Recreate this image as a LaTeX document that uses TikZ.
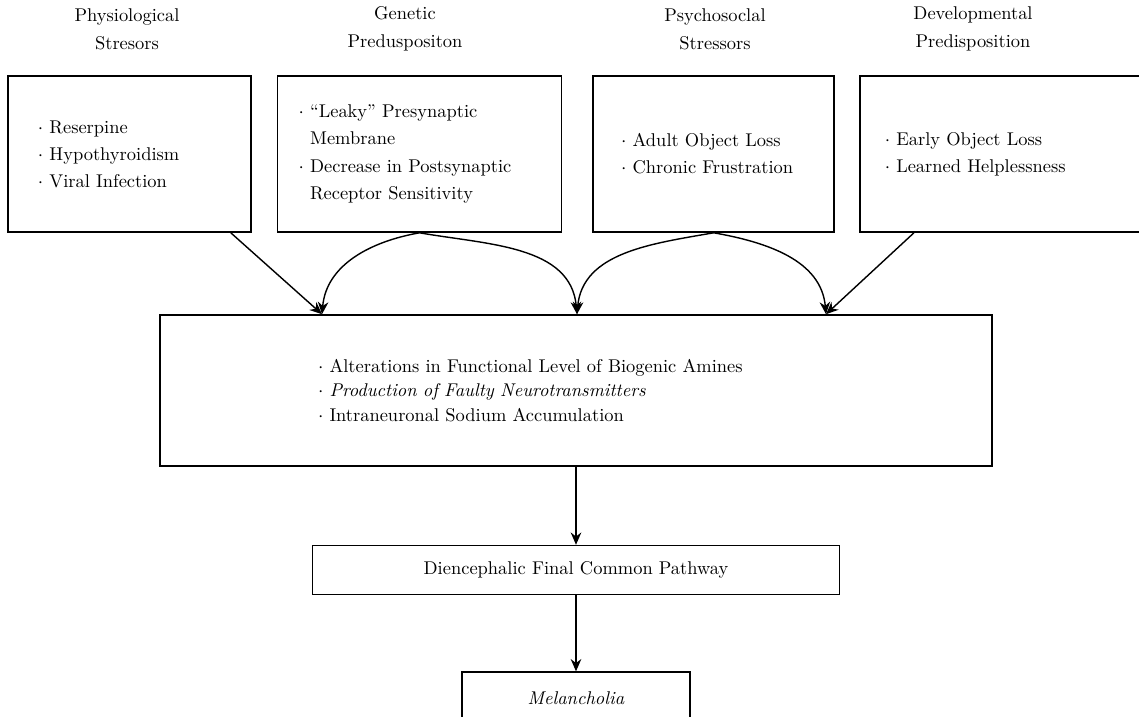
\documentclass[tikz,border=0pt]{standalone}
\usetikzlibrary{positioning, arrows.meta}
\newcommand{\bul}{$\cdot$\ }
\newcommand{\cont}{\hphantom{$\cdot$\ }}

\begin{document}
\begin{tikzpicture}[
    >={Stealth[length=7pt, width=6pt]},
    cause/.style={
      rectangle, draw=black, line width=0.9pt,
      minimum height=3.12cm, align=left,
      font=\fontsize{10.5}{15.4}\selectfont,
    },
    head/.style={align=center, font=\fontsize{10.5}{15.9}\selectfont},
    flat/.style={
      rectangle, draw=black, line width=0.9pt,
      minimum height=#1, font=\fontsize{10.5}{12}\selectfont,
    },
    arrow/.style={->, line width=0.8pt},
  ]
  \useasboundingbox (0,0) rectangle (22.78,-14.32);

  % the four groups of causes
  \node[cause, minimum width=4.86cm, text width=3.66cm, inner xsep=0.6cm] (phys) at (2.59,-3.08)
    {\bul Reserpine\\
     \bul Hypothyroidism\\
     \bul Viral Infection};
  \node[cause, minimum width=5.68cm, text width=4.84cm, inner xsep=0.42cm, right=0.5cm of phys] (gene)
    {\bul ``Leaky'' Presynaptic\\
     \cont Membrane\\
     \bul Decrease in Postsynaptic\\
     \cont Receptor Sensitivity};
  \node[cause, minimum width=4.82cm, text width=3.7cm, inner xsep=0.56cm, right=0.6cm of gene] (psych)
    {\bul Adult Object Loss\\
     \bul Chronic Frustration};
  \node[cause, minimum width=5.8cm, text width=4.8cm, inner xsep=0.5cm, right=0.48cm of psych] (devel)
    {\bul Early Object Loss\\
     \bul Learned Helplessness};

  \node[head] (phys-h) at (2.54,-0.58) {Physiological\\ Stresors};
  \node[head] (gene-h) at (8.1,-0.58) {Genetic\\ Preduspositon};
  \node[head] (psych-h) at (14.3,-0.58) {Psychosoclal\\ Stressors};
  \node[head] (devel-h) at (19.46,-0.58) {Developmental\\ Predisposition};

  % common mechanisms
  \node[cause, minimum width=16.64cm, minimum height=3.02cm, text width=10.32cm, inner xsep=3.16cm,
        font=\fontsize{10.5}{14}\selectfont] (amines) at (11.52,-7.81)
    {\bul Alterations in Functional Level of Biogenic Amines\\
     \bul \textit{Production of Faulty Neurotransmitters}\\
     \bul Intraneuronal Sodium Accumulation};

  \node[flat=0.98cm, minimum width=10.54cm, below=1.56cm of amines] (path)
    {Diencephalic Final Common Pathway};
  \node[flat=1.06cm, minimum width=4.56cm, below=1.52cm of path] (mel)
    {\textit{Melancholia}};

  \coordinate (inL) at ([xshift=-5.08cm]amines.north);
  \coordinate (inM) at ([xshift=0.02cm]amines.north);
  \coordinate (inR) at ([xshift=5.0cm]amines.north);

  \draw[arrow] ([xshift=-0.42cm]phys.south east) -- (inL);
  \draw[arrow] (gene.south) to[out=190, in=85] (inL);
  \draw[arrow] (gene.south) to[out=-10, in=95] (inM);
  \draw[arrow] (psych.south) to[out=190, in=85] (inM);
  \draw[arrow] (psych.south) to[out=-10, in=95] (inR);
  \draw[arrow] ([xshift=1.1cm]devel.south west) -- (inR);

  \draw[arrow] (amines.south) -- (path.north);
  \draw[arrow] (path.south) -- (mel.north);
\end{tikzpicture}
\end{document}
